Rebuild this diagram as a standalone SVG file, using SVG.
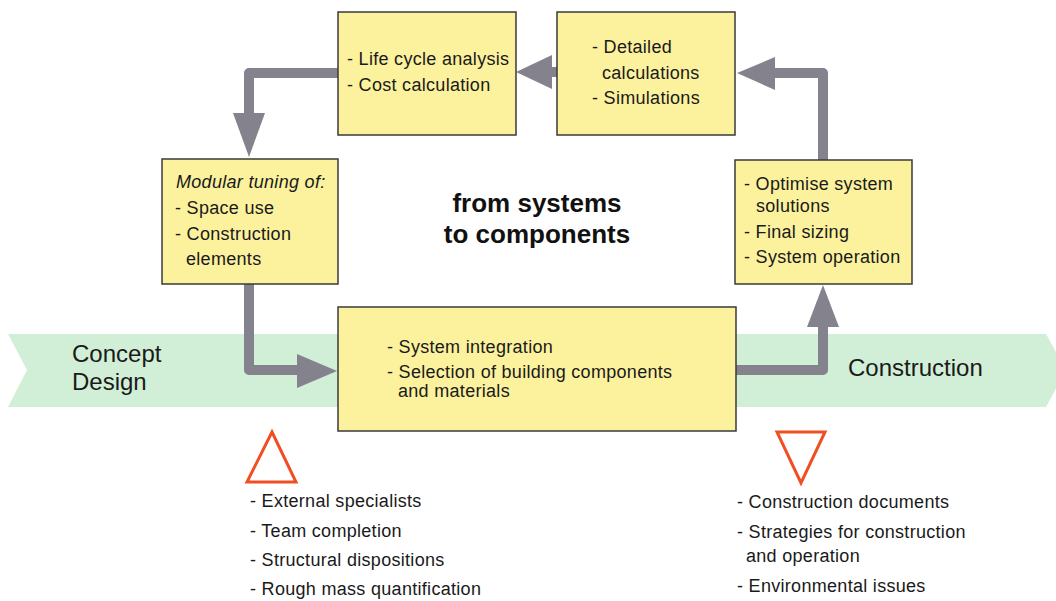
<svg xmlns="http://www.w3.org/2000/svg" width="1056" height="601" viewBox="0 0 1056 601">
<style>
.box{fill:#fcf29e;stroke:#3a3a3a;stroke-width:1.5}
.t{font-family:"Liberation Sans",Arial,sans-serif;font-size:18px;letter-spacing:0.3px;fill:#1a1a1a}
.big{font-family:"Liberation Sans",Arial,sans-serif;font-size:24px;fill:#1a1a1a}
.title{font-family:"Liberation Sans",Arial,sans-serif;font-size:26px;font-weight:bold;fill:#111;text-anchor:middle}
.ln{fill:none;stroke:#84838d;stroke-width:10;stroke-linejoin:round}
.ah{fill:#84838d}
.tri{fill:none;stroke:#f04e23;stroke-width:3}
</style>
<rect width="1056" height="601" fill="#ffffff"/>
<g id="band">
<polygon points="8,334 1046,334 1066,370 1046,407 8,407 27,370" fill="#d1eed6"/>
<text class="big" x="72" y="362">Concept</text>
<text class="big" x="72" y="390">Design</text>
<text class="big" x="848" y="376">Construction</text>
</g>
<g id="connectors">
<path class="ln" d="M338,73 H249 V113"/>
<polygon class="ah" points="233,113 265,113 249,157"/>
<path class="ln" d="M557,72 H551"/>
<polygon class="ah" points="552,55 552,89 516,72"/>
<path class="ln" d="M823,160 V73 H775"/>
<polygon class="ah" points="775,57 775,90 737,73"/>
<path class="ln" d="M249,284 V370 H297"/>
<polygon class="ah" points="297,354 297,388 337,371"/>
<path class="ln" d="M736,370 H823 V327"/>
<polygon class="ah" points="807,327 839,327 823,285"/>
</g>
<g id="node-lca">
<rect class="box" x="338" y="12" width="178" height="123"/>
<text class="t" x="347" y="65">- Life cycle analysis</text>
<text class="t" x="347" y="91">- Cost calculation</text>
</g>
<g id="node-detailed">
<rect class="box" x="557" y="12" width="178" height="123"/>
<text class="t" x="592" y="53">- Detailed</text>
<text class="t" x="602" y="79">calculations</text>
<text class="t" x="592" y="104">- Simulations</text>
</g>
<g id="node-modular">
<rect class="box" x="162" y="159" width="176" height="125"/>
<text class="t" x="176" y="188" font-style="italic">Modular tuning of:</text>
<text class="t" x="175" y="214">- Space use</text>
<text class="t" x="175" y="240">- Construction</text>
<text class="t" x="186" y="265">elements</text>
</g>
<g id="node-optimise">
<rect class="box" x="735" y="160" width="177" height="124"/>
<text class="t" x="744" y="190">- Optimise system</text>
<text class="t" x="756" y="212">solutions</text>
<text class="t" x="744" y="238">- Final sizing</text>
<text class="t" x="744" y="263">- System operation</text>
</g>
<g id="node-integration">
<rect class="box" x="338" y="307" width="398" height="124"/>
<text class="t" x="387" y="353">- System integration</text>
<text class="t" x="387" y="378">- Selection of building components</text>
<text class="t" x="398" y="397">and materials</text>
</g>
<g id="title">
<text class="title" x="537" y="212">from systems</text>
<text class="title" x="537" y="243">to components</text>
</g>
<g id="start-list">
<polygon class="tri" points="272,432 247,482 296,482"/>
<text class="t" x="250" y="507">- External specialists</text>
<text class="t" x="250" y="537">- Team completion</text>
<text class="t" x="250" y="566">- Structural dispositions</text>
<text class="t" x="250" y="595">- Rough mass quantification</text>
</g>
<g id="end-list">
<polygon class="tri" points="777,432 825,432 801,483"/>
<text class="t" x="737" y="508">- Construction documents</text>
<text class="t" x="737" y="538">- Strategies for construction</text>
<text class="t" x="746" y="562">and operation</text>
<text class="t" x="737" y="592">- Environmental issues</text>
</g>
</svg>
